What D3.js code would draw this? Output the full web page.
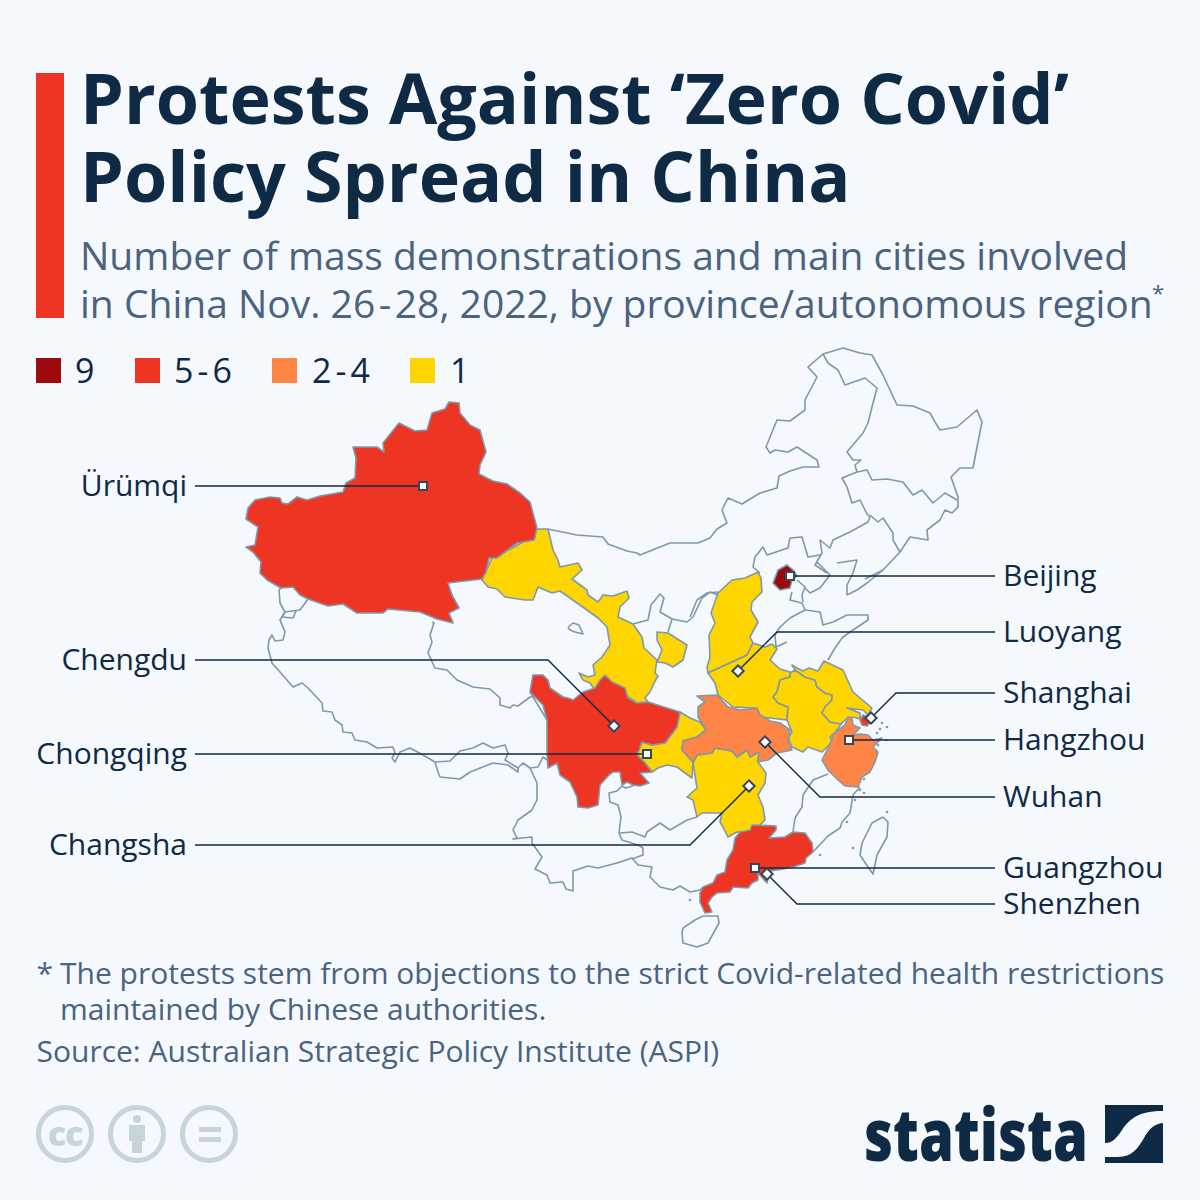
<!DOCTYPE html>
<html><head><meta charset="utf-8">
<style>html,body{margin:0;padding:0;background:#f5f8fc}svg{display:block}text{font-family:"Open Sans",sans-serif}</style>
<script src="https://cdnjs.cloudflare.com/ajax/libs/d3/7.8.5/d3.min.js"></script>
</head><body><svg id="c" width="1200" height="1200"></svg>
<script>
const titleLines=["Protests Against ‘Zero Covid’","Policy Spread in China"];
const subtitleLines=[["Number of mass demonstrations and main cities involved"],["in China Nov. 26","-","28, 2022, by province/autonomous region"]];
const legendLabels=[["9"],["5","-","6"],["2","-","4"],["1"]];
const legendColors=["#9b0a0f","#ee3524","#ff8547","#ffd500"];
const footLines=["The protests stem from objections to the strict Covid-related health restrictions","maintained by Chinese authorities."];
const sourceLine="Source: Australian Strategic Policy Institute (ASPI)";

// province outlines, in map-grid units
const Xinjiang=[[246,519],[248,508],[255,500],[270,497],[280,498],[282,503],[288,504],[297,497],[307,500],[320,496],[343,492],[346,483],[355,478],[356,458],[353,447],[377,447],[384,452],[383,443],[399,423],[415,431],[427,430],[432,413],[445,409],[449,402],[459,403],[460,413],[470,425],[480,430],[486,452],[480,465],[479,474],[493,481],[507,484],[520,493],[530,502],[537,528],[534,540],[517,543],[497,558],[489,558],[486,572],[482,579],[448,583],[452,595],[459,608],[449,613],[453,623],[437,619],[420,612],[388,609],[383,613],[357,613],[343,604],[328,606],[308,599],[300,595],[293,587],[281,588],[267,580],[260,573],[261,562],[253,552],[246,547],[255,545],[258,527]];
const Gansu=[[482,580],[492,558],[503,553],[523,542],[535,538],[535,529],[548,529],[553,550],[558,560],[560,567],[578,563],[582,570],[572,579],[587,590],[588,595],[598,602],[603,595],[613,596],[627,591],[629,598],[620,607],[618,617],[633,624],[642,637],[644,648],[657,660],[655,673],[658,676],[654,683],[650,692],[645,698],[648,702],[637,703],[625,695],[605,685],[595,690],[590,683],[583,680],[579,673],[588,677],[595,675],[593,665],[602,657],[610,645],[607,627],[598,618],[587,610],[577,603],[560,591],[552,593],[538,587],[533,600],[525,600],[505,597],[497,589],[488,587]];
const Ningxia=[[657,632],[668,633],[687,645],[683,660],[673,667],[665,663],[657,662],[662,650],[657,640]];
const Sichuan=[[533,675],[543,675],[548,680],[550,688],[563,697],[568,698],[573,700],[583,692],[595,688],[600,680],[605,675],[612,682],[625,688],[628,698],[637,703],[648,702],[667,708],[680,712],[677,727],[665,743],[652,745],[642,742],[637,755],[645,763],[652,772],[640,773],[649,783],[640,786],[633,785],[627,782],[622,785],[620,772],[613,772],[609,775],[600,785],[598,805],[588,808],[578,807],[577,797],[570,782],[560,775],[557,763],[548,768],[547,755],[547,720],[543,705],[530,692]];
const Chongqing=[[680,712],[690,718],[700,722],[706,730],[697,737],[683,741],[682,750],[693,762],[692,778],[685,773],[677,767],[667,765],[658,768],[652,772],[645,763],[637,755],[642,742],[652,745],[665,743],[677,727]];
const Hubei=[[697,696],[717,695],[728,707],[740,710],[757,708],[760,715],[770,721],[780,723],[790,730],[788,742],[792,750],[777,753],[768,760],[758,762],[759,752],[750,757],[747,750],[737,757],[732,751],[715,748],[712,753],[697,755],[693,762],[682,750],[683,741],[697,737],[706,730],[698,717],[698,707],[705,702]];
const Hunan=[[697,755],[712,753],[715,748],[732,751],[737,757],[747,750],[750,757],[759,752],[758,762],[766,773],[765,783],[758,795],[763,807],[765,820],[760,825],[750,832],[737,832],[728,837],[723,827],[720,822],[722,813],[702,813],[697,817],[693,800],[687,797],[697,788],[693,763]];
const Shanxi=[[758,572],[761,578],[762,592],[752,602],[751,610],[758,622],[750,637],[753,643],[747,655],[730,663],[708,673],[707,667],[710,657],[709,635],[715,623],[711,613],[718,593],[732,580],[745,578]];
const Henan=[[708,673],[730,663],[747,655],[753,643],[765,647],[772,644],[777,649],[770,660],[780,669],[790,672],[790,677],[780,680],[777,692],[773,697],[778,703],[788,707],[787,720],[770,718],[758,717],[755,708],[733,707],[718,695],[715,683]];
const Anhui=[[788,707],[787,720],[792,732],[788,738],[792,747],[803,752],[808,747],[822,752],[832,742],[830,737],[835,733],[841,724],[830,722],[822,713],[825,707],[832,700],[832,695],[825,693],[817,687],[815,680],[805,677],[795,670],[790,673],[790,677],[780,680],[777,692],[773,697],[778,703]];
const Jiangsu=[[792,665],[797,668],[803,671],[809,668],[818,671],[824,661],[843,670],[853,692],[872,708],[868,715],[863,710],[847,708],[860,713],[860,719],[853,717],[845,720],[841,724],[830,722],[822,713],[825,707],[832,700],[832,695],[825,693],[817,687],[815,680],[805,677],[795,670]];
const Zhejiang=[[822,760],[832,740],[832,735],[845,725],[848,717],[852,718],[853,725],[860,728],[853,735],[860,734],[868,735],[873,740],[882,738],[873,747],[878,752],[875,762],[870,772],[862,777],[858,787],[845,786],[838,780],[828,770]];
const Shanghai=[[860,720],[863,715],[868,717],[872,720],[867,726],[862,725]];
const Guangdong=[[736,837],[740,832],[750,830],[752,825],[776,826],[776,830],[769,838],[785,837],[793,832],[805,833],[812,843],[813,852],[806,858],[805,863],[793,867],[783,869],[770,871],[767,883],[758,873],[758,880],[752,883],[748,888],[733,887],[730,892],[717,893],[712,897],[708,903],[712,912],[705,913],[700,902],[700,893],[703,887],[713,883],[717,875],[725,872],[727,860],[733,850],[735,838]];
const Beijing=[[787,565],[793,570],[797,576],[792,580],[790,588],[780,590],[773,583],[778,570]];

const filled=[
 {name:"Gansu",count:1,shape:Gansu},{name:"Ningxia",count:1,shape:Ningxia},{name:"Shanxi",count:1,shape:Shanxi},
 {name:"Henan",count:1,shape:Henan},{name:"Anhui",count:1,shape:Anhui},{name:"Jiangsu",count:1,shape:Jiangsu},
 {name:"Hunan",count:1,shape:Hunan},{name:"Chongqing",count:1,shape:Chongqing},{name:"Hubei",count:3,shape:Hubei},
 {name:"Zhejiang",count:3,shape:Zhejiang},{name:"Xinjiang",count:5,shape:Xinjiang},{name:"Sichuan",count:5,shape:Sichuan},
 {name:"Guangdong",count:6,shape:Guangdong},{name:"Shanghai",count:5,shape:Shanghai},{name:"Beijing",count:9,shape:Beijing}];

// provinces with no recorded protests and the outer border: outlines only
const unfilledBorders=[
 [[281,588],[279,590],[280,603],[285,612],[280,620],[285,632],[283,640],[275,641],[272,635],[269,640],[268,648],[272,663],[280,672],[293,687],[302,683],[308,688],[322,703],[323,711],[332,712],[335,720],[342,725],[343,732],[352,733],[355,740],[367,742],[377,748],[393,747],[395,753],[392,758],[395,762],[400,752],[410,748],[423,755],[435,762],[450,761],[460,751],[473,748],[483,743],[493,748],[505,745],[508,753],[505,760],[518,768],[523,763],[530,768],[538,767],[543,757],[547,760]],
 [[308,599],[300,610],[285,612],[282,617],[293,618],[296,611]],
 [[435,762],[438,772],[440,777],[460,779],[470,772],[493,763],[508,765],[518,772],[518,768]],
 [[432,622],[434,623],[430,635],[432,642],[428,653],[435,668],[447,670],[457,680],[473,687],[490,689],[500,698],[500,705],[510,708],[513,705],[518,706],[530,697],[534,697]],
 [[530,768],[537,783],[537,800],[532,810],[518,820],[513,830],[517,838],[513,839],[532,837],[532,843],[542,857],[535,869],[547,875],[550,883],[563,882],[566,889],[573,891],[573,871],[588,866],[598,868],[617,863],[632,858],[638,865],[652,867],[650,877],[660,887],[673,890],[680,886],[690,892],[700,890],[703,887]],
 [[633,786],[626,788],[622,786],[617,791],[609,793],[610,802],[618,805],[621,817],[619,833],[622,840],[638,845],[643,848],[643,855],[632,859]],
 [[620,833],[632,832],[645,837],[647,832],[660,823],[670,830],[687,820],[697,817]],
 [[828,774],[813,780],[803,795],[802,807],[795,818],[793,832]],
 [[860,787],[853,795],[850,813],[842,822],[840,828],[828,836],[813,852]],
 [[548,529],[577,535],[603,537],[608,544],[627,551],[637,553],[640,555],[670,543],[698,543],[710,538],[717,529],[727,523],[722,510],[728,498],[742,504],[760,493],[777,488],[779,476],[790,471],[803,467],[819,467],[817,460],[797,447],[788,452],[775,450],[770,453],[766,447],[777,420],[790,421],[805,410],[805,400],[817,377],[808,367],[823,354],[843,348],[860,353],[872,355],[883,375],[897,405],[913,406],[930,413],[935,422],[940,430],[957,427],[977,410],[982,422],[977,447],[973,468],[960,468],[951,477],[958,497],[958,507],[952,513],[945,510],[940,520],[927,530],[928,540],[910,537],[900,552],[883,570],[865,579]],
 [[823,354],[828,363],[838,370],[845,385],[865,378],[877,388],[872,407],[868,423],[863,433],[847,452],[853,460],[861,460],[855,465],[857,472],[867,470],[872,480],[887,479],[903,482],[913,495],[922,490],[933,503],[945,493],[957,500]],
 [[857,472],[842,478],[847,487],[852,503],[860,500],[867,514],[870,517],[868,522],[850,532],[833,540],[830,548],[820,540],[822,553],[815,565],[827,573]],
 [[870,515],[878,522],[883,518],[893,533],[893,540],[900,552]],
 [[820,555],[808,557],[802,537],[790,538],[788,548],[767,555],[763,547],[755,557],[753,567],[760,573]],
 [[792,592],[790,600],[802,603],[805,610],[790,618],[780,627],[775,635],[776,647],[787,642]],
 [[805,610],[820,612],[823,625],[833,622],[847,615],[868,615],[868,620],[850,632],[842,638],[835,648],[828,660]],
 [[797,580],[805,587],[802,595],[803,602]],
 [[817,562],[830,575],[820,588],[810,593],[805,588]],
 [[837,563],[857,560],[853,573],[847,585],[847,595],[857,590],[867,583],[883,570]],
 [[633,624],[648,620],[651,605],[660,594],[664,598],[660,612],[672,619],[668,632]],
 [[672,619],[687,622],[693,617],[702,598],[710,592],[718,595]],
 [[690,617],[697,600],[707,593],[718,592]],
 [[547,720],[530,692]],
 [[568,627],[573,623],[579,625],[583,634],[575,632],[570,630],[568,627]],
 [[683,928],[695,920],[703,916],[718,916],[719,923],[708,943],[697,947],[683,943],[682,933],[683,928]],
 [[883,817],[888,822],[887,837],[877,855],[873,874],[868,867],[860,855],[862,843],[872,823],[883,817]],
 [[819,685],[822,685],[827,687],[827,692],[822,693],[819,690],[819,685]]
];
const islands=[[882,723],[887,727],[877,733],[880,729],[886,740],[878,745],[869,771],[864,779],[860,790],[855,800],[847,822],[853,848],[887,812],[820,855],[690,900],[864,793]];

const cities=[
 {name:"Ürümqi",side:"left",marker:"square",at:[423,486],labelY:486,elbow:null},
 {name:"Chengdu",side:"left",marker:"diamond",at:[614,726],labelY:660,elbow:548},
 {name:"Chongqing",side:"left",marker:"square",at:[647,754],labelY:754,elbow:null},
 {name:"Changsha",side:"left",marker:"diamond",at:[749,786],labelY:845,elbow:690},
 {name:"Beijing",side:"right",marker:"square",at:[790,576],labelY:576,elbow:null},
 {name:"Luoyang",side:"right",marker:"diamond",at:[738,671],labelY:632,elbow:777},
 {name:"Shanghai",side:"right",marker:"diamond",at:[871,718],labelY:693,elbow:896},
 {name:"Hangzhou",side:"right",marker:"square",at:[849,740],labelY:740,elbow:null},
 {name:"Wuhan",side:"right",marker:"diamond",at:[765,742],labelY:797,elbow:820},
 {name:"Guangzhou",side:"right",marker:"square",at:[755,868],labelY:868,elbow:null},
 {name:"Shenzhen",side:"right",marker:"diamond",at:[767,874],labelY:904,elbow:797}];

const NAVY="#0f2a45",SLATE="#4a6380",BORDER="#7f98aa",ICON="#c8d4dc";
const svg=d3.select("#c");
const mapX=d3.scaleLinear().domain([240,990]).range([240,990]);
const mapY=d3.scaleLinear().domain([340,950]).range([340,950]);
const line=d3.line().x(d=>mapX(d[0])).y(d=>mapY(d[1]));
const colorOf=d3.scaleThreshold().domain([2,5,9]).range(["#ffd500","#ff8547","#ee3524","#9b0a0f"]);

svg.append("rect").attr("width",1200).attr("height",1200).attr("fill","#f5f8fc");
svg.append("rect").attr("x",36).attr("y",73).attr("width",28).attr("height",245).attr("fill","#ee3524");
svg.selectAll(".t").data(titleLines).join("text").attr("x",80).attr("y",(d,i)=>124+i*78)
 .attr("font-size",70).attr("font-weight",700).attr("fill",NAVY).text(d=>d);
function spaced(sel,parts,gap){parts.forEach((p,i)=>sel.append("tspan").attr("dx",i?gap:0).text(p));}
subtitleLines.forEach((parts,i)=>{
 const t=svg.append("text").attr("x",80).attr("y",270+i*48).attr("font-size",39).attr("fill",SLATE);
 spaced(t,parts,3.5);
});
svg.append("text").attr("x",1152).attr("y",301).attr("font-size",22).attr("fill",SLATE).text("*");

const legX=[36,135,272,410];
const legText=[75,174,312,450];
legendLabels.forEach((l,i)=>{
 svg.append("rect").attr("x",legX[i]).attr("y",358).attr("width",25).attr("height",25).attr("fill",legendColors[i]);
 const t=svg.append("text").attr("x",legText[i]).attr("y",383).attr("font-size",34).attr("fill",NAVY);
 spaced(t,l,4);
});

const g=svg.append("g").attr("stroke-linejoin","round");
g.selectAll(".b").data(unfilledBorders).join("path").attr("d",line).attr("fill","none").attr("stroke",BORDER).attr("stroke-width",1.6);
g.selectAll(".i").data(islands).join("circle").attr("cx",d=>mapX(d[0])).attr("cy",d=>mapY(d[1])).attr("r",1.3).attr("fill",BORDER);
g.selectAll(".p").data(filled).join("path").attr("d",d=>line(d.shape)+"Z").attr("fill",d=>colorOf(d.count)).attr("stroke",BORDER).attr("stroke-width",1.6);

const lab=svg.append("g");
cities.forEach(c=>{
 const right=c.side==="right", xEnd=right?995:195;
 const pts=[c.at];
 if(c.elbow!==null)pts.push([c.elbow,c.labelY]);
 pts.push([xEnd,c.labelY]);
 lab.append("path").attr("d",line(pts)).attr("fill","none").attr("stroke",NAVY).attr("stroke-width",1.4);
});
cities.forEach(c=>{
 const right=c.side==="right";
 lab.append("rect").attr("x",-4).attr("y",-4).attr("width",8).attr("height",8).attr("fill","#fff").attr("stroke","#33475f").attr("stroke-width",2)
  .attr("transform",`translate(${mapX(c.at[0])},${mapY(c.at[1])})`+(c.marker==="diamond"?" rotate(45)":""));
 lab.append("text").attr("x",right?1003:187).attr("y",c.labelY+10).attr("text-anchor",right?"start":"end")
  .attr("font-size",30).attr("fill",NAVY).text(c.name);
});

svg.append("text").attr("x",36.5).attr("y",984).attr("font-size",30).attr("fill",SLATE).text("*");
svg.selectAll(".f").data(footLines).join("text").attr("x",60).attr("y",(d,i)=>984+i*36).attr("font-size",30).attr("fill",SLATE).text(d=>d);
svg.append("text").attr("x",36.5).attr("y",1062).attr("font-size",30).attr("fill",SLATE).text(sourceLine);

// licence icons
[65,137,209].forEach(cx=>svg.append("circle").attr("cx",cx).attr("cy",1134).attr("r",26.5).attr("fill","none").attr("stroke",ICON).attr("stroke-width",5));
svg.append("text").attr("x",65).attr("y",1146).attr("text-anchor","middle").attr("font-size",34).attr("font-weight",800).attr("letter-spacing",-1).attr("fill",ICON).text("cc");
svg.append("circle").attr("cx",137).attr("cy",1119).attr("r",4).attr("fill",ICON);
svg.append("path").attr("d","M129 1125H145V1141H142V1153H132V1141H129Z").attr("fill",ICON);
svg.append("rect").attr("x",199).attr("y",1127).attr("width",22).attr("height",5).attr("fill",ICON);
svg.append("rect").attr("x",199).attr("y",1137).attr("width",22).attr("height",5).attr("fill",ICON);

// logo
svg.append("text").attr("x",864).attr("y",1161).attr("font-size",72).attr("font-weight",800).attr("fill",NAVY)
 .attr("textLength",224).attr("lengthAdjust","spacingAndGlyphs").text("statista");
svg.append("path").attr("fill",NAVY).attr("d","M1105 1105H1163V1111C1140 1111 1130 1118 1122 1130C1116 1139 1112 1143 1105 1143Z");
svg.append("path").attr("fill",NAVY).attr("d","M1163 1123V1163H1105V1157H1118C1132 1157 1138 1148 1144 1138C1149 1129 1154 1124 1163 1123Z");
</script></body></html>
